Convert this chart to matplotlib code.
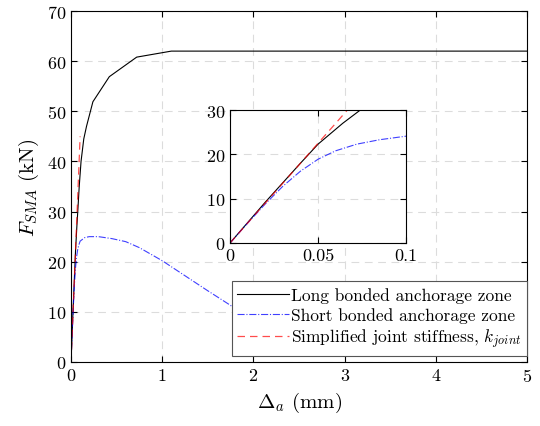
import matplotlib
matplotlib.use("Agg")
import matplotlib.pyplot as plt
import numpy as np

plt.rcParams['font.family'] = 'serif'
plt.rcParams['font.serif'] = ['cmr10']
plt.rcParams['mathtext.fontset'] = 'cm'
plt.rcParams['axes.formatter.use_mathtext'] = True

# Long bonded anchorage zone
long_x = [0, 0.01, 0.02, 0.03, 0.04, 0.05, 0.064, 0.074, 0.09, 0.11, 0.14, 0.17, 0.24, 0.42, 0.72, 1.1, 5.0]
long_y = [0, 4.6, 9.2, 13.6, 18.0, 22.3, 27.0, 30.0, 35.0, 40.0, 44.5, 47.0, 51.9, 56.9, 60.8, 62.0, 62.0]

# Short bonded anchorage zone
short_x = [0, 0.01, 0.02, 0.03, 0.04, 0.05, 0.06, 0.072, 0.085, 0.1, 0.15, 0.2, 0.3, 0.45, 0.6, 0.75, 1.0, 1.25, 1.5, 1.74, 2.0, 2.3, 2.57]
short_y = [0, 4.5, 8.8, 12.8, 16.2, 18.9, 20.8, 22.3, 23.3, 24.1, 24.8, 25.0, 25.0, 24.6, 24.0, 22.8, 20.2, 17.2, 14.2, 11.4, 8.2, 4.8, 1.6]

# Simplified joint stiffness
k_x = [0, 0.1]
k_y = [0, 45.0]

fig = plt.figure(figsize=(5.4, 4.27), dpi=100)
ax = fig.add_axes([0.1315, 0.1499, 0.8445, 0.822])

grid_kw = dict(color='#dcdcdc', linestyle=(0, (7, 5)), linewidth=0.8)

ax.plot(long_x, long_y, color='black', lw=0.8, label='Long bonded anchorage zone')
ax.plot(short_x, short_y, color='blue', lw=0.8, ls='-.', alpha=0.75, label='Short bonded anchorage zone')
ax.plot(k_x, k_y, color='red', lw=0.9, ls=(0, (6, 4)), alpha=0.7, label='Simplified joint stiffness, $k_{joint}$')
ax.set_xlim(0, 5)
ax.set_ylim(0, 70)
ax.set_xticks(range(0, 6))
ax.set_yticks(range(0, 71, 10))
ax.grid(True, **grid_kw)
ax.tick_params(direction='in', top=True, right=True, labelsize=13, length=4)
ax.set_xlabel(r'$\Delta_a$ (mm)', fontsize=15)
ax.set_ylabel(r'$F_{SMA}$ (kN)', fontsize=15)
for s in ax.spines.values():
    s.set_linewidth(0.8)

leg = ax.legend(loc='lower right', bbox_to_anchor=(1.0, 0.017), borderaxespad=0,
                fontsize=12.5, handlelength=3.0, handletextpad=0.1, labelspacing=0.25,
                borderpad=0.32, fancybox=False, framealpha=1, edgecolor='#555555')
leg.get_frame().set_linewidth(0.8)

ins = fig.add_axes([0.426, 0.4286, 0.326, 0.3114])
ins.plot(long_x, long_y, color='black', lw=0.8)
ins.plot(short_x, short_y, color='blue', lw=0.8, ls='-.', alpha=0.75)
ins.plot(k_x, k_y, color='red', lw=0.9, ls=(0, (6, 4)), alpha=0.7)
ins.set_xlim(0, 0.1)
ins.set_ylim(0, 30)
ins.set_xticks([0, 0.05, 0.1])
ins.set_xticklabels(['0', '0.05', '0.1'])
ins.set_yticks([0, 10, 20, 30])
ins.grid(True, **grid_kw)
ins.tick_params(direction='in', top=True, right=True, labelsize=13, length=4)
for s in ins.spines.values():
    s.set_linewidth(0.8)

fig.savefig('out.png', dpi=100)
